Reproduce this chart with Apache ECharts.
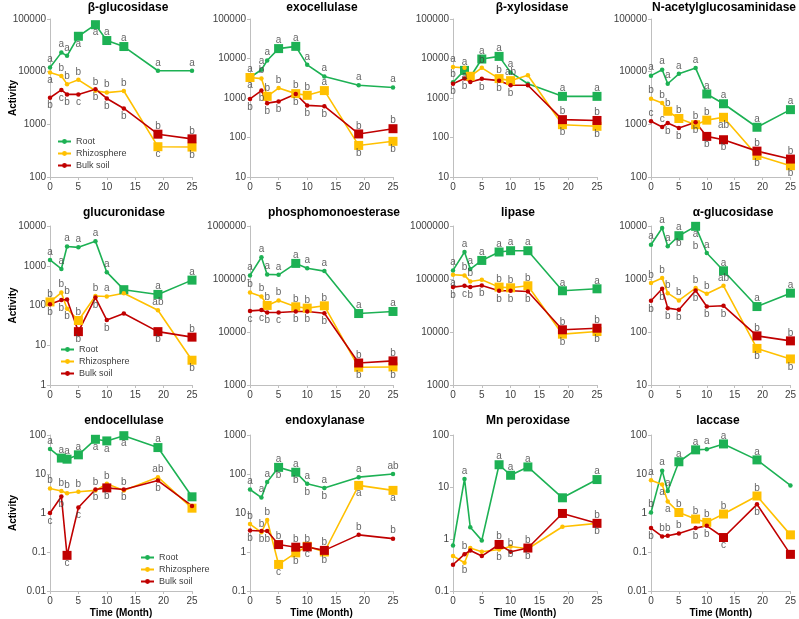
<!DOCTYPE html>
<html>
<head>
<meta charset="utf-8">
<script src="https://cdn.jsdelivr.net/npm/echarts@6/dist/echarts.min.js"></script>
<style>
html, body { margin: 0; padding: 0; background: #fff; }
#main { width: 799px; height: 619px; }
</style>
</head>
<body>
<div id="main"></div>
<script>
// sampling times (month) shared by every panel
var months = [0, 2, 3, 5, 8, 10, 13, 19, 25];

// letters: one token per month, '-' = none, '/' = line break
// β-glucosidase
var bgluRoot = [12000, 23000, 20000, 47000, 78000, 39000, 30000, 10400, 10400], bgluRootSq = [5, 8, 10, 13];
var bgluRhizo = [9600, 8300, 5800, 7000, 4350, 4000, 4300, 376, 370], bgluRhizoSq = [19, 25];
var bgluBulk = [3200, 4500, 3700, 3700, 4650, 3100, 2000, 650, 530], bgluBulkSq = [19, 25];
var bgluUp = ['a a a - - a a a a', '- b b b b b b - -', '- - - - - - - b b'];
var bgluDn = ['- - - a a - - - -', 'a - - - - - - c b', 'b c b c b b b - -'];

// exocellulase
var exoRoot = [3300, 5200, 8900, 17800, 20300, 6900, 3500, 2100, 1850], exoRootSq = [5, 8];
var exoRhizo = [3300, 3100, 1100, 1780, 1290, 1170, 1540, 63, 80], exoRhizoSq = [0, 3, 8, 10, 13, 19, 25];
var exoBulk = [945, 1540, 740, 820, 1260, 650, 620, 123, 167], exoBulkSq = [19, 25];
var exoUp = ['a a a a a a a a a', '- b b b b b a - -', '- - - - - - - b b'];
var exoDn = ['- - - - - - - - -', 'a - - - - - - b b', 'b b b b b b b - -'];

// β-xylosidase
var bxylRoot = [2500, 5000, 3400, 9700, 11300, 4450, 2300, 1100, 1100], bxylRootSq = [2, 5, 8, 19, 25];
var bxylRhizo = [6100, 5800, 3550, 5800, 3100, 2750, 3750, 211, 192], bxylRhizoSq = [3, 8, 10, 19, 25];
var bxylBulk = [2300, 3100, 2550, 3050, 2750, 2100, 2100, 283, 270], bxylBulkSq = [19, 25];
var bxylUp = ['b a - a a a - a a', 'a - - b b ab - - -', '- - - - - - - b b'];
var bxylDn = ['- - - - - - - - -', '- a - - - - - b b', 'b b - b b b - - -'];

// N-acetylglucosaminidase
var nagRoot = [8400, 10900, 5900, 9100, 11700, 3770, 2460, 880, 1900], nagRootSq = [10, 13, 19, 25];
var nagRhizo = [3070, 2540, 1770, 1290, 985, 1200, 1360, 256, 164], nagRhizoSq = [3, 5, 8, 10, 13, 19, 25];
var nagBulk = [1140, 890, 1060, 850, 1090, 590, 510, 310, 219], nagBulkSq = [10, 13, 19, 25];
var nagUp = ['a a a a a a a a a', 'b b b b b b - - -', 'c c - - - - - b b'];
var nagDn = ['- - - - - - - - -', '- - - - - - ab b b', '- - b b b b b - -'];

// glucuronidase
var glcRoot = [1400, 830, 3040, 2900, 4160, 690, 250, 190, 435], glcRootSq = [13, 19, 25];
var glcRhizo = [123, 211, 83, 42, 174, 168, 204, 76, 4.2], glcRhizoSq = [0, 5, 25];
var glcBulk = [107, 138, 141, 22, 158, 43, 63, 22, 16], glcBulkSq = [5, 19, 25];
var glcUp = ['a a a a a a - a a', 'b b - b b a - ab -', '- - b - - - - - b'];
var glcDn = ['- - - - - - - - -', '- - b - - - - - b', 'b b - b b b - b -'];

// phosphomonoesterase
var phoRoot = [117000, 257000, 122000, 120000, 197000, 160000, 141000, 22300, 24400], phoRootSq = [8, 19, 25];
var phoRhizo = [55700, 46800, 31700, 39400, 29900, 28200, 31200, 2160, 2190], phoRhizoSq = [3, 8, 10, 13, 19, 25];
var phoBulk = [25000, 25900, 23300, 23300, 24400, 24400, 22600, 2600, 2850], phoBulkSq = [19, 25];
var phoUp = ['a a a a a a a a a', 'b b b b b b b - -', '- - - - - - - b b'];
var phoDn = ['- - - - - - - - -', '- - - - - - - b b', 'c c b c b b b - -'];

// lipase
var lipRoot = [145000, 323000, 154000, 224000, 323000, 342000, 342000, 60000, 65300], lipRootSq = [5, 8, 10, 13, 19, 25];
var lipRhizo = [120000, 117000, 90000, 96800, 70300, 68300, 74500, 9100, 10200], lipRhizoSq = [8, 10, 13, 19, 25];
var lipBulk = [70300, 74500, 70300, 75700, 60000, 60000, 58200, 11000, 11800], lipBulkSq = [19, 25];
var lipUp = ['a a a a a a a a a', '- b b - b b b - -', '- - - - - - - b b'];
var lipDn = ['- - - - - - - - -', 'a - - - - - - b b', 'b c b b b b b - -'];

// α-glucosidase
var agluRoot = [4440, 9160, 4130, 6560, 9860, 3090, 1430, 302, 541], agluRootSq = [5, 8, 13, 19, 25];
var agluRhizo = [837, 1040, 541, 394, 673, 525, 745, 49, 31], agluRhizoSq = [19, 25];
var agluBulk = [388, 653, 282, 263, 608, 303, 312, 84.5, 68], agluBulkSq = [19, 25];
var agluUp = ['a a a a - a a a a', 'b b b b b b ab - -', '- - - - - - - b b'];
var agluDn = ['- - - b a/b - - - -', '- - - - - - - b b', 'b b b b b b b - -'];

// endocellulase
var endcRoot = [44, 25.6, 24, 31, 77.6, 70.5, 96, 47.6, 2.6], endcRootSq = [2, 3, 5, 8, 10, 13, 19, 25];
var endcRhizo = [4.27, 3.65, 3.2, 3.5, 3.8, 5.6, 3.8, 8.3, 1.33], endcRhizoSq = [25];
var endcBulk = [1.0, 2.65, 0.082, 1.38, 4.0, 4.4, 4.0, 6.8, 1.52], endcBulkSq = [3, 10];
var endcUp = ['a a a a - - - a -', 'b b b b b b b ab -', '- - - - - - - - -'];
var endcDn = ['- - - - a a a - -', '- - - - - - - - -', 'c b c c b b b b -'];

// endoxylanase
var endxRoot = [40, 24.8, 62, 148, 111, 56, 44, 83, 100], endxRootSq = [5, 8];
var endxRhizo = [5.2, 3.2, 6.6, 0.48, 0.95, 1.4, 1.0, 51, 38], endxRhizoSq = [5, 8, 10, 13, 19, 25];
var endxBulk = [3.55, 3.45, 3.45, 1.55, 1.33, 1.35, 1.1, 2.75, 2.2], endxBulkSq = [5, 8, 10, 13];
var endxUp = ['a a a a a a a a ab', 'b b b - - - - - -', '- - - b b b b b b'];
var endxDn = ['- - - b b b b - -', '- - - c b c b a a', 'b b b - - - - - -'];

// Mn peroxidase
var mnpRoot = [0.75, 14.3, 1.68, 0.94, 26.8, 16.8, 24.3, 6.2, 13.9], mnpRootSq = [8, 10, 13, 19, 25];
var mnpRhizo = [0.47, 0.35, 0.67, 0.57, 0.63, 0.72, 0.65, 1.72, 2.0], mnpRhizoSq = [];
var mnpBulk = [0.32, 0.51, 0.6, 0.47, 0.785, 0.57, 0.67, 3.1, 2.0], mnpBulkSq = [8, 13, 19, 25];
var mnpUp = ['- a - - a a a - a', '- - - - - - - - -', '- b - - b b b - b'];
var mnpDn = ['- - - - - - - - -', '- b - - b b b - b', '- - - - - - - - -'];

// laccase
var lacRoot = [1.03, 12.2, 3.65, 20.6, 41.6, 43, 59, 23, 5.1], lacRootSq = [5, 8, 13, 19];
var lacRhizo = [6.9, 5.4, 1.96, 1.03, 0.70, 0.575, 0.94, 2.73, 0.275], lacRhizoSq = [5, 8, 10, 13, 19, 25];
var lacBulk = [0.41, 0.25, 0.26, 0.30, 0.41, 0.47, 0.235, 1.67, 0.087], lacBulkSq = [13, 25];
var lacUp = ['b a a a a a a a -', 'a - - b b b b b -', '- b b b - - - - -'];
var lacDn = ['- - - - - - - - -', '- a a - - - - - -', 'b - - - b b c b -'];

var panels = [
  { t: 'β-glucosidase', min: 100, max: 100000, v: [bgluRoot, bgluRhizo, bgluBulk], sq: [bgluRootSq, bgluRhizoSq, bgluBulkSq], up: bgluUp, dn: bgluDn },
  { t: 'exocellulase', min: 10, max: 100000, v: [exoRoot, exoRhizo, exoBulk], sq: [exoRootSq, exoRhizoSq, exoBulkSq], up: exoUp, dn: exoDn },
  { t: 'β-xylosidase', min: 10, max: 100000, v: [bxylRoot, bxylRhizo, bxylBulk], sq: [bxylRootSq, bxylRhizoSq, bxylBulkSq], up: bxylUp, dn: bxylDn },
  { t: 'N-acetylglucosaminidase', min: 100, max: 100000, v: [nagRoot, nagRhizo, nagBulk], sq: [nagRootSq, nagRhizoSq, nagBulkSq], up: nagUp, dn: nagDn },
  { t: 'glucuronidase', min: 1, max: 10000, v: [glcRoot, glcRhizo, glcBulk], sq: [glcRootSq, glcRhizoSq, glcBulkSq], up: glcUp, dn: glcDn },
  { t: 'phosphomonoesterase', min: 1000, max: 1000000, v: [phoRoot, phoRhizo, phoBulk], sq: [phoRootSq, phoRhizoSq, phoBulkSq], up: phoUp, dn: phoDn },
  { t: 'lipase', min: 1000, max: 1000000, v: [lipRoot, lipRhizo, lipBulk], sq: [lipRootSq, lipRhizoSq, lipBulkSq], up: lipUp, dn: lipDn },
  { t: 'α-glucosidase', min: 10, max: 10000, v: [agluRoot, agluRhizo, agluBulk], sq: [agluRootSq, agluRhizoSq, agluBulkSq], up: agluUp, dn: agluDn },
  { t: 'endocellulase', min: 0.01, max: 100, v: [endcRoot, endcRhizo, endcBulk], sq: [endcRootSq, endcRhizoSq, endcBulkSq], up: endcUp, dn: endcDn },
  { t: 'endoxylanase', min: 0.1, max: 1000, v: [endxRoot, endxRhizo, endxBulk], sq: [endxRootSq, endxRhizoSq, endxBulkSq], up: endxUp, dn: endxDn },
  { t: 'Mn peroxidase', min: 0.1, max: 100, v: [mnpRoot, mnpRhizo, mnpBulk], sq: [mnpRootSq, mnpRhizoSq, mnpBulkSq], up: mnpUp, dn: mnpDn },
  { t: 'laccase', min: 0.01, max: 100, v: [lacRoot, lacRhizo, lacBulk], sq: [lacRootSq, lacRhizoSq, lacBulkSq], up: lacUp, dn: lacDn }
];

var groups = ['Root', 'Rhizosphere', 'Bulk soil'];
var colors = ['#1db154', '#ffc000', '#c00000'];

// layout
var cols = [[50, 142], [250, 143], [453, 144], [651, 142]];
var rows = [[19, 158], [226, 159], [435, 158]];
var titleX = [128, 322, 532, 724, 124, 334, 518, 733, 124, 325, 528, 718];
var titleY = [2, 207, 415];
var legendPos = [[57, 137], [60, 345], [140, 553]];

var FONT = 'Liberation Sans, Arial, sans-serif';
var txt = '#404040';
var axisGray = '#bfbfbf';

function L(s) {
  return s.split(' ').map(function (t) { return t === '-' ? '' : t.replace('/', '\n'); });
}

var chart = echarts.init(document.getElementById('main'));
var grid = [], xAxis = [], yAxis = [], series = [], labels = [], title = [], legend = [];

panels.forEach(function (p, i) {
  var c = cols[i % 4], r = rows[Math.floor(i / 4)];
  grid.push({ left: c[0], top: r[0], width: c[1], height: r[1] });
  title.push({
    text: p.t, left: titleX[i], top: titleY[Math.floor(i / 4)], textAlign: 'center', padding: 0,
    textStyle: { fontSize: 12, fontWeight: 'bold', color: '#000', fontFamily: FONT }
  });
  xAxis.push({
    type: 'value', gridIndex: i, min: 0, max: 25, interval: 5,
    name: i >= 8 ? 'Time (Month)' : '', nameLocation: 'middle', nameGap: 17, nameMoveOverlap: false,
    nameTextStyle: { fontSize: 10, fontWeight: 'bold', color: '#000', fontFamily: FONT },
    axisLine: { lineStyle: { color: axisGray } },
    axisTick: { show: true, length: 3, lineStyle: { color: axisGray } },
    axisLabel: { fontSize: 10, color: txt, margin: 5, fontFamily: FONT },
    splitLine: { show: false }
  });
  yAxis.push({
    type: 'log', logBase: 10, gridIndex: i, min: p.min, max: p.max,
    name: i % 4 === 0 ? 'Activity' : '', nameLocation: 'middle', nameGap: 32, nameMoveOverlap: false,
    nameTextStyle: { fontSize: 10, fontWeight: 'bold', color: '#000', fontFamily: FONT },
    axisLine: { show: true, lineStyle: { color: axisGray } },
    axisTick: { show: true, length: 3, lineStyle: { color: axisGray } },
    axisLabel: {
      fontSize: 10, color: txt, margin: 4, fontFamily: FONT,
      formatter: function (v) { return String(+(+v).toPrecision(6)); }
    },
    splitLine: { show: false }
  });

  groups.forEach(function (g, k) {
    var vals = p.v[k], sq = p.sq[k];
    series.push({
      name: g, type: 'line', xAxisIndex: i, yAxisIndex: i,
      symbol: 'circle', showAllSymbol: true, animation: false,
      lineStyle: { width: 1.6, color: colors[k] },
      itemStyle: { color: colors[k] },
      data: months.map(function (m, j) {
        var big = sq.indexOf(m) >= 0;
        return { value: [m, vals[j]], symbol: big ? 'rect' : 'circle', symbolSize: big ? 9 : 4.5 };
      })
    });
    [[L(p.up[k]), -1], [L(p.dn[k]), 1]].forEach(function (pair) {
      var letters = pair[0], dir = pair[1];
      var d = [];
      months.forEach(function (m, j) {
        var s = letters[j];
        if (!s) return;
        var n = s.split('\n').length;
        d.push({ value: [m, vals[j]], label: { formatter: s, offset: [0, dir * (8 + (n - 1) * 6)] } });
      });
      if (d.length) {
        labels.push({
          type: 'scatter', xAxisIndex: i, yAxisIndex: i, silent: true, animation: false,
          symbolSize: 1, itemStyle: { color: 'rgba(0,0,0,0)' }, z: 5,
          label: { show: true, position: 'inside', color: txt, fontSize: 10, lineHeight: 12, fontFamily: FONT },
          data: d
        });
      }
    });
  });
});

legendPos.forEach(function (lp) {
  legend.push({
    data: groups, orient: 'vertical', left: lp[0], top: lp[1], padding: 0,
    itemWidth: 13, itemHeight: 6, itemGap: 3, selectedMode: false,
    textStyle: { fontSize: 9, color: txt, fontFamily: FONT }
  });
});

chart.setOption({
  animation: false,
  title: title,
  legend: legend,
  grid: grid,
  xAxis: xAxis,
  yAxis: yAxis,
  series: series.concat(labels)
});
</script>
</body>
</html>
